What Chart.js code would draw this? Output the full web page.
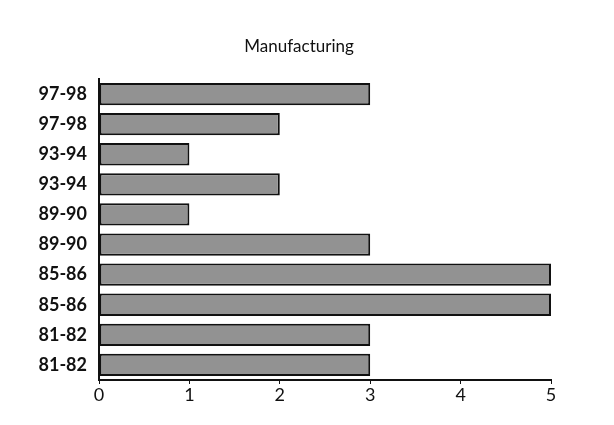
<!DOCTYPE html>
<html>
<head>
<meta charset="utf-8">
<script src="https://cdn.jsdelivr.net/npm/chart.js@4"></script>
<style>
  body { margin: 0; background: #fff; }
  #wrap { width: 614px; height: 425px; }
</style>
</head>
<body>
<div id="wrap"><canvas id="myChart" width="614" height="425"></canvas></div>
<script>
// periods, top to bottom as shown
const periods = ['97-98', '97-98', '93-94', '93-94', '89-90', '89-90', '85-86', '85-86', '81-82', '81-82'];
const values = [3, 2, 1, 2, 1, 3, 5, 5, 3, 3];
const xTicks = [0, 1, 2, 3, 4, 5];
const chartTitle = 'Manufacturing';

// title sits a bit left of the plot centre in the original, so draw it by hand
const titlePlugin = {
    id: 'titleText',
    afterDraw(chart) {
        const c = chart.ctx;
        c.save();
        c.fillStyle = '#111';
        c.font = '17px Lato';
        c.textAlign = 'center';
        c.textBaseline = 'middle';
        c.fillText(chartTitle, 299, 47);
        c.restore();
    }
};

const ctx = document.getElementById('myChart').getContext('2d');
new Chart(ctx, {
    type: 'bar',
    data: {
        labels: periods,
        datasets: [{
            label: chartTitle,
            data: values,
            backgroundColor: '#929292',
            borderColor: '#111',
            borderWidth: 2,
            borderSkipped: false,
            barPercentage: 1,
            categoryPercentage: 0.74
        }]
    },
    options: {
        indexAxis: 'y',
        responsive: false,
        animation: false,
        layout: { padding: { left: 0, right: 63, top: 79, bottom: 0 } },
        plugins: {
            legend: { display: false },
            tooltip: { enabled: false },
            title: { display: false }
        },
        scales: {
            x: {
                min: 0,
                max: 5,
                afterBuildTicks: axis => { axis.ticks = xTicks.map(v => ({ value: v })); },
                afterFit: axis => { axis.height = 45; },
                grid: { drawOnChartArea: false, drawTicks: true, tickLength: 4, color: '#111' },
                border: { color: '#111', width: 2 },
                ticks: { color: '#111', padding: 0, font: { family: 'Lato', size: 18 } }
            },
            y: {
                afterFit: axis => { axis.width = 99; },
                grid: { display: false },
                border: { color: '#111', width: 2 },
                ticks: { color: '#111', padding: 4, font: { family: 'Lato', size: 18, weight: 'bold' } }
            }
        }
    },
    plugins: [titlePlugin]
});
</script>
</body>
</html>
